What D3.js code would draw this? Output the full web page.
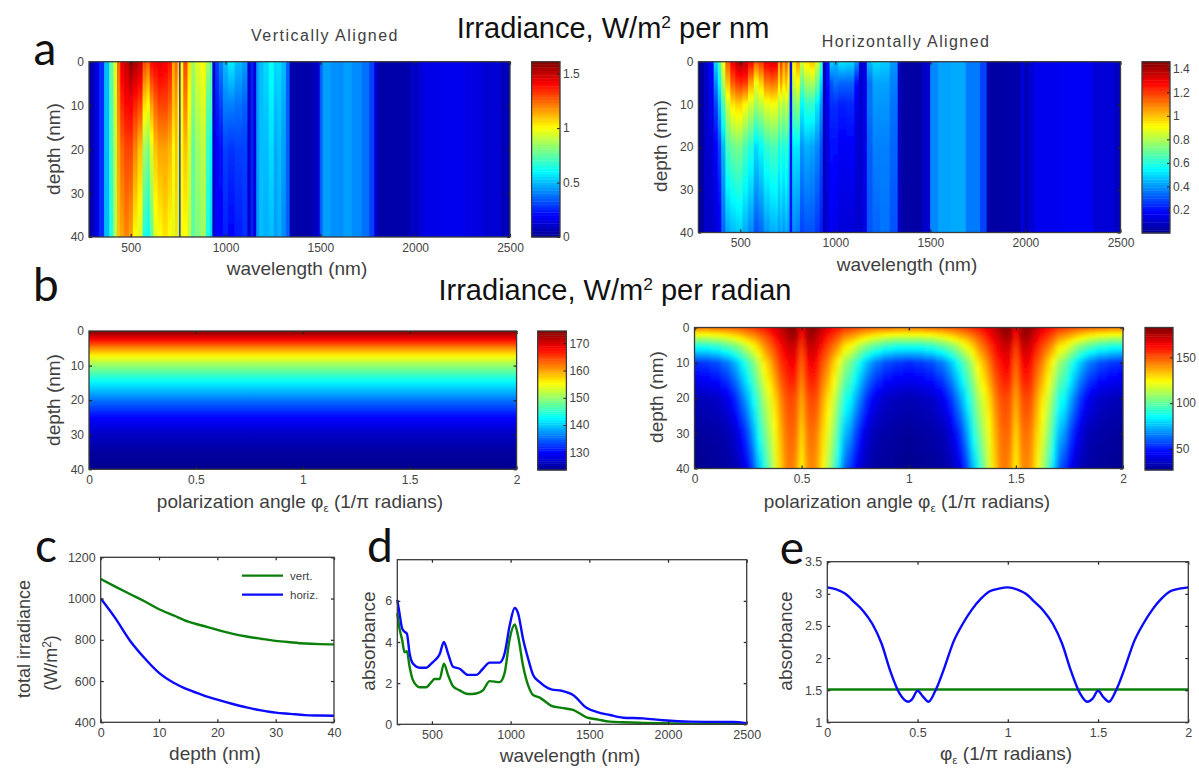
<!DOCTYPE html>
<html>
<head>
<meta charset="utf-8">
<script src="https://cdn.jsdelivr.net/npm/d3@7"></script>
<style>
  body { margin: 0; background: #fff; }
  text { font-family: "Liberation Sans", Arial, sans-serif; fill: #404040; }
  .tick text { font-size: 12px; fill: #444; }
  .big { fill: #111; }
  .letter { font-family: Lato, "Open Sans", sans-serif; fill: #111; font-size: 46px; }
</style>
</head>
<body>
<svg id="fig" width="1199" height="769"></svg>
<script>
"use strict";

// panel a: irradiance columns, one row per wavelength. one number = same at every depth
const aLeftDepths = [0, 10, 20, 40];
const aLeftWl = [280, 300, 320, 346, 373, 400, 417, 438, 452, 479, 500, 523, 549, 576, 590, 611, 629, 655, 682, 708, 726, 740, 753, 759, 766, 788, 811, 827, 850, 885, 908, 926, 935, 956, 973, 1000, 1026, 1070, 1106, 1125, 1139, 1155, 1169, 1186, 1213, 1243, 1266, 1283, 1306, 1331, 1345, 1433, 1477, 1491, 1503, 1520, 1591, 1608, 1635, 1696, 1740, 1775, 1793, 1810, 1969, 1986, 2004, 2021, 2065, 2224, 2312, 2400, 2500];
const aLeftRows = [
  [0.05], [0.07], [0.15], [0.27], [0.5], [0.75, 0.72, 0.7, 0.65], [0.95, 0.93, 0.9, 0.88],
  [1.25, 1.2, 1.15, 1.1], [1.45, 1.35, 1.25, 1.15], [1.5, 1.4, 1.3, 1.2], [1.58, 1.42, 1.3, 1.15],
  [1.55, 1.35, 1.2, 1.0], [1.5, 1.3, 1.1, 0.95], [1.3, 1.05, 0.85, 0.65], [1.25, 1.0, 0.8, 0.6],
  [1.4, 1.15, 0.95, 0.75], [1.42, 1.25, 1.1, 0.95], [1.45, 1.3, 1.15, 1.0], [1.43, 1.3, 1.15, 1.05],
  [1.38, 1.25, 1.12, 1.0], [1.15, 1.1, 1.0, 0.95], [1.25, 1.15, 1.1, 1.05], [1.1, 1.0, 0.95, 0.9],
  [0.2], [1.0], [1.3, 1.2, 1.1, 1.0], [1.05, 1.0, 0.95, 0.9], [0.85, 0.8, 0.75, 0.75],
  [0.95, 0.9, 0.85, 0.8], [1.0, 0.95, 0.9, 0.85], [0.85, 0.75, 0.7, 0.65], [0.75, 0.7, 0.6, 0.55],
  [0.1], [0.3, 0.24, 0.2, 0.2], [0.4, 0.3, 0.22, 0.2], [0.5, 0.4, 0.3, 0.25], [0.58, 0.4, 0.28, 0.2],
  [0.5, 0.38, 0.3, 0.24], [0.45, 0.35, 0.3, 0.27], [0.1], [0.25], [0.12], [0.45], [0.5],
  [0.55, 0.52, 0.5, 0.48], [0.62, 0.58, 0.55, 0.5], [0.55, 0.5, 0.47, 0.45], [0.55, 0.52, 0.5, 0.48],
  [0.5, 0.47, 0.45, 0.42], [0.35], [0.05], [0.05], [0.08], [0.12], [0.35], [0.45], [0.43], [0.42],
  [0.45], [0.42], [0.38], [0.3], [0.12], [0.05], [0.05], [0.12], [0.08], [0.13], [0.16], [0.17],
  [0.15], [0.12], [0.08]
];

const aRightDepths = [0, 5, 10, 20, 40];
const aRightWl = [280, 295, 321, 347, 373, 391, 409, 435, 461, 488, 500, 523, 558, 584, 610, 637, 672, 693, 703, 716, 728, 742, 756, 764, 782, 803, 825, 847, 882, 905, 930, 938, 961, 979, 1000, 1031, 1084, 1116, 1132, 1156, 1176, 1216, 1256, 1316, 1340, 1346, 1446, 1466, 1492, 1506, 1576, 1636, 1736, 1786, 1806, 1966, 1986, 2006, 2026, 2076, 2276, 2436, 2500];
const aRightRows = [
  [0.03], [0.03], [0.1], [0.18, 0.17, 0.15, 0.12, 0.1], [0.5, 0.38, 0.28, 0.18, 0.12],
  [0.65, 0.55, 0.45, 0.28, 0.15], [0.9, 0.8, 0.65, 0.45, 0.33], [1.15, 1.0, 0.85, 0.65, 0.42],
  [1.3, 1.15, 0.95, 0.7, 0.45], [1.38, 1.2, 0.98, 0.72, 0.47], [1.4, 1.22, 0.98, 0.72, 0.48],
  [1.37, 1.2, 0.92, 0.65, 0.43], [1.28, 1.05, 0.85, 0.6, 0.38], [1.15, 0.9, 0.78, 0.5, 0.3],
  [1.2, 0.98, 0.82, 0.55, 0.33], [1.3, 1.1, 0.88, 0.62, 0.4], [1.33, 1.12, 0.9, 0.65, 0.43],
  [1.32, 1.1, 0.9, 0.66, 0.44], [1.05, 0.95, 0.8, 0.58, 0.4], [1.2, 1.05, 0.85, 0.62, 0.43],
  [1.05, 0.95, 0.78, 0.58, 0.4], [1.15, 1.0, 0.85, 0.62, 0.43], [1.0, 0.9, 0.75, 0.55, 0.4],
  [0.2], [0.95, 0.85, 0.72, 0.52, 0.38], [1.05, 0.9, 0.75, 0.52, 0.36], [0.85, 0.7, 0.55, 0.4, 0.28],
  [0.95, 0.78, 0.62, 0.44, 0.3], [1.0, 0.8, 0.62, 0.42, 0.3], [0.85, 0.7, 0.52, 0.38, 0.26],
  [0.65, 0.5, 0.4, 0.3, 0.22], [0.07], [0.2, 0.2, 0.17, 0.14, 0.13], [0.5, 0.3, 0.25, 0.2, 0.17],
  [0.45, 0.35, 0.25, 0.2, 0.15], [0.52, 0.33, 0.23, 0.17, 0.12], [0.5, 0.33, 0.24, 0.18, 0.12],
  [0.4, 0.2, 0.15, 0.13, 0.11], [0.1], [0.15], [0.45, 0.35, 0.35, 0.32, 0.3], [0.5, 0.42, 0.4, 0.37, 0.33],
  [0.48, 0.42, 0.4, 0.37, 0.35], [0.4, 0.37, 0.35, 0.33, 0.3], [0.1], [0.04], [0.04], [0.1], [0.1],
  [0.38], [0.42], [0.43], [0.36], [0.28], [0.04], [0.05], [0.13], [0.06], [0.12], [0.16], [0.17],
  [0.12], [0.08]
];

// panel b left: irradiance per radian does not depend on the angle
const bLeftAngles = [0, 2];
const bLeftDepths = [0, 2.5, 5, 7.5, 10, 12.5, 15, 17.5, 20, 25, 30, 35, 40];
const bLeftProfile = [174.5, 168, 161, 155, 150, 146, 142, 139, 135.7, 130, 126.5, 124.5, 123.5];

// panel b right: one period, repeats for 1..2
const bRightDepths = [0, 2.5, 5, 10, 20, 30, 40];
const bRightAngles = [0, 0.05, 0.1, 0.15, 0.175, 0.2, 0.225, 0.25, 0.275, 0.3, 0.325, 0.35, 0.375, 0.4, 0.425, 0.45, 0.475, 0.5, 0.525, 0.55, 0.575, 0.6, 0.625, 0.65, 0.675, 0.7, 0.725, 0.75, 0.775, 0.8, 0.825, 0.85, 0.9, 0.95, 1];
const bRightRows = [
  [145, 118, 92, 54, 34, 29, 27], [145, 118, 92, 55, 35, 30, 28], [147, 120, 95, 58, 37, 31, 29],
  [148, 123, 100, 64, 42, 33, 30], [149, 126, 104, 70, 48, 36, 32], [150, 129, 108, 77, 55, 41, 34],
  [151, 133, 113, 86, 65, 49, 39], [153, 137, 120, 95, 75, 58, 46], [155, 140, 126, 104, 87, 72, 57],
  [158, 145, 133, 115, 98, 88, 75], [160, 150, 142, 127, 112, 100, 88], [165, 155, 148, 135, 120, 112, 102],
  [168, 162, 155, 145, 130, 122, 118], [172, 168, 162, 155, 142, 135, 130], [178, 172, 168, 160, 150, 145, 142],
  [182, 178, 172, 165, 153, 148, 145], [180, 176, 170, 163, 150, 146, 140], [165, 160, 155, 148, 138, 130, 125],
  [178, 175, 170, 162, 150, 144, 140], [182, 178, 173, 166, 153, 147, 143], [178, 172, 168, 160, 150, 142, 138],
  [172, 166, 160, 150, 138, 130, 125], [167, 160, 153, 143, 128, 120, 112], [163, 155, 147, 132, 118, 108, 98],
  [160, 150, 140, 122, 105, 92, 80], [156, 143, 130, 110, 90, 76, 62], [155, 140, 126, 104, 87, 70, 55],
  [153, 137, 120, 95, 75, 58, 46], [151, 133, 113, 86, 65, 49, 39], [150, 129, 108, 77, 55, 41, 34],
  [149, 126, 104, 70, 48, 36, 32], [148, 123, 100, 64, 42, 33, 30], [147, 120, 95, 58, 37, 31, 29],
  [145, 118, 92, 55, 35, 30, 28], [145, 118, 92, 53, 34, 29, 27]
];

// panel c
const cDepth = [0, 2.5, 5, 7.5, 10, 12.5, 15, 17.5, 20, 22.5, 25, 27.5, 30, 32.5, 35, 37.5, 40];
const cVert = [1095, 1058, 1022, 987, 948, 918, 888, 868, 848, 830, 816, 805, 795, 788, 782, 779, 778];
const cHoriz = [1000, 905, 797, 712, 640, 592, 558, 532, 510, 490, 472, 458, 447, 441, 435, 433, 432];

// panel d
const dWl = [280, 294, 311, 326, 341, 358, 379, 422, 464, 496, 517, 549, 576, 602, 634, 676, 729, 782, 824, 867, 930, 962, 994, 1026, 1047, 1079, 1111, 1143, 1185, 1259, 1323, 1397, 1482, 1556, 1630, 1715, 1842, 1969, 2138, 2414, 2500];
const dHoriz = [6.05, 5.4, 4.65, 4.5, 4.4, 3.45, 2.95, 2.75, 2.75, 2.95, 3.1, 3.4, 4.0, 3.45, 2.8, 2.7, 2.4, 2.4, 2.7, 3.0, 3.0, 3.45, 4.8, 5.65, 5.4, 4.15, 3.2, 2.4, 2.05, 1.7, 1.63, 1.42, 0.8, 0.58, 0.45, 0.32, 0.29, 0.2, 0.13, 0.11, 0.05];
const dVert = [5.4, 4.65, 4.1, 3.5, 3.55, 2.8, 2.15, 1.8, 1.8, 2.05, 2.2, 2.2, 2.95, 2.4, 1.85, 1.65, 1.47, 1.5, 1.65, 2.1, 2.05, 2.5, 4.15, 4.85, 4.3, 2.85, 1.9, 1.42, 1.3, 0.9, 0.8, 0.7, 0.34, 0.23, 0.13, 0.1, 0.07, 0.05, 0.03, 0.02, 0.02];

// panel e
const eAngle = [0, 0.05, 0.1, 0.15, 0.2, 0.25, 0.3, 0.35, 0.4, 0.45, 0.47, 0.5, 0.53, 0.56, 0.6, 0.65, 0.7, 0.75, 0.8, 0.85, 0.9, 0.95, 1, 1.05, 1.1, 1.15, 1.2, 1.25, 1.3, 1.35, 1.4, 1.44, 1.47, 1.5, 1.53, 1.56, 1.6, 1.65, 1.7, 1.75, 1.8, 1.85, 1.9, 1.95, 2];
const eHoriz = [3.1, 3.07, 3.0, 2.87, 2.73, 2.53, 2.23, 1.79, 1.45, 1.32, 1.36, 1.49, 1.4, 1.32, 1.5, 1.86, 2.26, 2.53, 2.75, 2.92, 3.04, 3.08, 3.1, 3.07, 3.0, 2.87, 2.73, 2.53, 2.23, 1.8, 1.45, 1.32, 1.37, 1.49, 1.39, 1.32, 1.5, 1.86, 2.26, 2.53, 2.75, 2.92, 3.04, 3.08, 3.1];
const eVertAngle = [0, 2];
const eVert = [1.51, 1.51];

const svg = d3.select("#fig");
const defs = svg.append("defs");
const BLUE = "#0a0aff";
const GREEN = "#0a800a";
const FRAME = "#3a3a3a";

defs.append("filter").attr("id", "soft").append("feGaussianBlur").attr("stdDeviation", "0.45 0.6");
defs.append("filter").attr("id", "softer").append("feGaussianBlur").attr("stdDeviation", "2 0.8");

const jetStops = [0, 0.125, 0.375, 0.625, 0.875, 1];
const jetColors = ["#00008f", "#0000ff", "#00ffff", "#ffff00", "#ff0000", "#800000"];
function jet(lo, hi) {
    return d3.scaleLinear()
        .domain(jetStops.map(t => lo + t * (hi - lo)))
        .range(jetColors)
        .clamp(true);
}

// MATLAB style box: ticks pointing inwards on all four sides, labels left and bottom
function drawAxes(box, x, y, xTicks, yTicks, fontSize) {
    const g = svg.append("g");
    const fmt = d => d;
    g.append("g").attr("transform", `translate(0,${box.y1})`)
        .call(d3.axisBottom(x).tickValues(xTicks).tickFormat(fmt).tickSize(-3).tickPadding(6));
    g.append("g").attr("transform", `translate(${box.x0},0)`)
        .call(d3.axisLeft(y).tickValues(yTicks).tickFormat(fmt).tickSize(-3).tickPadding(5));
    g.append("g").attr("transform", `translate(0,${box.y0})`)
        .call(d3.axisTop(x).tickValues(xTicks).tickFormat("").tickSize(-3));
    g.append("g").attr("transform", `translate(${box.x1},0)`)
        .call(d3.axisRight(y).tickValues(yTicks).tickFormat("").tickSize(-3));
    g.selectAll(".domain").remove();
    g.selectAll(".tick line").attr("stroke", "#222").attr("stroke-width", 1.2);
    g.selectAll(".tick text").style("font-size", fontSize ? fontSize + "px" : null);
    g.append("rect")
        .attr("x", box.x0).attr("y", box.y0)
        .attr("width", box.x1 - box.x0).attr("height", box.y1 - box.y0)
        .attr("fill", "none").attr("stroke", FRAME).attr("stroke-width", 1.3);
}

// one rect per column, the depth dependence goes into a vertical gradient
function drawHeat(id, box, x, y, xs, depths, rows, color, filter) {
    defs.append("clipPath").attr("id", "clip-" + id).append("rect")
        .attr("x", box.x0).attr("y", box.y0)
        .attr("width", box.x1 - box.x0).attr("height", box.y1 - box.y0);
    const layer = svg.append("g").attr("clip-path", `url(#clip-${id})`)
        .append("g").attr("filter", `url(#${filter})`);
    const edges = xs.map((v, i) => i === 0 ? x.domain()[0] : (xs[i - 1] + v) / 2);
    edges.push(x.domain()[1]);
    const samples = d3.range(0, 40.5, 1);
    rows.forEach((row, i) => {
        let fill;
        if (row.length === 1) {
            fill = color(row[0]);
        } else {
            const at = d3.scaleLinear().domain(depths).range(row);
            const gid = `${id}-col${i}`;
            const grad = defs.append("linearGradient").attr("id", gid)
                .attr("gradientUnits", "userSpaceOnUse")
                .attr("x1", 0).attr("x2", 0).attr("y1", y(0)).attr("y2", y(40));
            grad.selectAll("stop").data(samples).enter().append("stop")
                .attr("offset", d => d / 40)
                .attr("stop-color", d => color(at(d)));
            fill = `url(#${gid})`;
        }
        // first and last run past the box so the blur has no pale edge
        const left = i === 0 ? x(edges[i]) - 6 : x(edges[i]);
        const right = i === rows.length - 1 ? x(edges[i + 1]) + 6 : x(edges[i + 1]) + 1.2;
        layer.append("rect")
            .attr("x", left)
            .attr("y", box.y0 - 6)
            .attr("width", right - left)
            .attr("height", box.y1 - box.y0 + 12)
            .attr("fill", fill);
    });
}

function drawColorbar(box, lo, hi, ticks) {
    const color = jet(lo, hi);
    const y = d3.scaleLinear().domain([lo, hi]).range([box.y1, box.y0]);
    const levels = d3.range(0, 64).map(i => lo + (i + 0.5) / 64 * (hi - lo));
    const step = (hi - lo) / 64;
    svg.append("g").selectAll("rect").data(levels).enter().append("rect")
        .attr("x", box.x0).attr("width", box.x1 - box.x0)
        .attr("y", d => y(d + step / 2))
        .attr("height", d => y(d - step / 2) - y(d + step / 2) + 0.4)
        .attr("fill", d => color(d));
    const g = svg.append("g").attr("transform", `translate(${box.x1},0)`)
        .call(d3.axisRight(y).tickValues(ticks).tickFormat(d => d).tickSize(-3).tickPadding(3));
    g.select(".domain").remove();
    g.selectAll(".tick line").attr("stroke", "#222");
    svg.append("rect")
        .attr("x", box.x0).attr("y", box.y0)
        .attr("width", box.x1 - box.x0).attr("height", box.y1 - box.y0)
        .attr("fill", "none").attr("stroke", FRAME).attr("stroke-width", 1.3);
}

function hText(cx, y, str, size, cls) {
    return svg.append("text").attr("x", cx).attr("y", y)
        .attr("text-anchor", "middle").attr("class", cls || null)
        .style("font-size", size + "px").text(str);
}
function vText(cx, cy, str, size) {
    return svg.append("text")
        .attr("transform", `translate(${cx},${cy}) rotate(-90)`)
        .attr("text-anchor", "middle")
        .style("font-size", size + "px").text(str);
}
function angleLabel(cx, y, before, after, size) {
    const t = hText(cx, y, null, size);
    t.append("tspan").text(before + "\u03c6");
    t.append("tspan").attr("dy", 4).style("font-size", (size * 0.62) + "px").text("\u03b5");
    t.append("tspan").attr("dy", -4).text(after);
    return t;
}
function titleWithSup(cx, y, before, after, size) {
    const t = hText(cx, y, null, size, "big");
    t.append("tspan").text(before);
    t.append("tspan").attr("dy", -10).style("font-size", (size * 0.6) + "px").text("2");
    t.append("tspan").attr("dy", 10).text(after);
    return t;
}

function heatPanel(id, box, xDomain, xTicks, xs, depths, rows, lo, hi, barBox, barTicks, filter) {
    const x = d3.scaleLinear().domain(xDomain).range([box.x0, box.x1]);
    const y = d3.scaleLinear().domain([0, 40]).range([box.y0, box.y1]);
    drawHeat(id, box, x, y, xs, depths, rows, jet(lo, hi), filter || "soft");
    drawAxes(box, x, y, xTicks, [0, 10, 20, 30, 40]);
    drawColorbar(barBox, lo, hi, barTicks);
}

const wlTicks = [500, 1000, 1500, 2000, 2500];
const angleTicks = [0, 0.5, 1, 1.5, 2];
const wlDomain = [280, 2500];

// a
heatPanel("aL", {x0: 89, x1: 510, y0: 61.7, y1: 237}, wlDomain, wlTicks, aLeftWl, aLeftDepths, aLeftRows,
    0, 1.61, {x0: 531.6, x1: 560, y0: 61.7, y1: 237}, [0, 0.5, 1, 1.5]);
heatPanel("aR", {x0: 698.4, x1: 1120.5, y0: 61.7, y1: 232.5}, wlDomain, wlTicks, aRightWl, aRightDepths, aRightRows,
    0.004, 1.46, {x0: 1142, x1: 1170, y0: 61.7, y1: 233}, [0.2, 0.4, 0.6, 0.8, 1, 1.2, 1.4]);

// b
heatPanel("bL", {x0: 89, x1: 516.6, y0: 331, y1: 469.3}, [0, 2], angleTicks, bLeftAngles, bLeftDepths,
    [bLeftProfile, bLeftProfile], 123.5, 174.5, {x0: 537.7, x1: 566.4, y0: 331, y1: 470}, [130, 140, 150, 160, 170]);
heatPanel("bR", {x0: 694.5, x1: 1123, y0: 327.5, y1: 468.5}, [0, 2], angleTicks,
    bRightAngles.concat(bRightAngles.slice(1).map(a => a + 1)), bRightDepths,
    bRightRows.concat(bRightRows.slice(1)), 27, 182.6, {x0: 1145, x1: 1173, y0: 327.5, y1: 470}, [50, 100, 150], "softer");

// line panels
function linePanel(box, xDomain, yDomain, xTicks, yTicks, series) {
    const x = d3.scaleLinear().domain(xDomain).range([box.x0, box.x1]);
    const y = d3.scaleLinear().domain(yDomain).range([box.y1, box.y0]);
    const line = d3.line().x(d => x(d[0])).y(d => y(d[1])).curve(d3.curveMonotoneX);
    series.forEach(s => {
        svg.append("path")
            .attr("d", line(d3.zip(s.xs, s.ys)))
            .attr("fill", "none")
            .attr("stroke", s.color)
            .attr("stroke-width", 2.4)
            .attr("stroke-linejoin", "round");
    });
    drawAxes(box, x, y, xTicks, yTicks, 12.5);
}

linePanel({x0: 100.7, x1: 334, y0: 557.3, y1: 722.3}, [0, 40], [400, 1200],
    [0, 10, 20, 30, 40], [400, 600, 800, 1000, 1200],
    [{xs: cDepth, ys: cVert, color: GREEN}, {xs: cDepth, ys: cHoriz, color: BLUE}]);
linePanel({x0: 397.3, x1: 746.7, y0: 559.7, y1: 724.3}, [280, 2500], [0, 8],
    wlTicks, [0, 2, 4, 6],
    [{xs: dWl, ys: dVert, color: GREEN}, {xs: dWl, ys: dHoriz, color: BLUE}]);
linePanel({x0: 827.3, x1: 1188.3, y0: 561.7, y1: 722.3}, [0, 2], [1, 3.5],
    angleTicks, [1, 1.5, 2, 2.5, 3, 3.5],
    [{xs: eVertAngle, ys: eVert, color: GREEN}, {xs: eAngle, ys: eHoriz, color: BLUE}]);

// legend of c
const legendRows = [{label: "vert.", color: GREEN, y: 575.7}, {label: "horiz.", color: BLUE, y: 594.7}];
legendRows.forEach(r => {
    svg.append("line").attr("x1", 242).attr("x2", 283).attr("y1", r.y).attr("y2", r.y)
        .attr("stroke", r.color).attr("stroke-width", 2.3);
    svg.append("text").attr("x", 290).attr("y", r.y + 4).style("font-size", "11.5px").text(r.label);
});

// titles and labels
titleWithSup(613, 38, "Irradiance, W/m", " per nm", 29);
titleWithSup(615, 300, "Irradiance, W/m", " per radian", 29);
hText(325, 41, "Vertically Aligned", 16).style("letter-spacing", "1.5px");
hText(906, 47, "Horizontally Aligned", 16).style("letter-spacing", "1.4px");

hText(297, 275, "wavelength (nm)", 19);
hText(907, 271, "wavelength (nm)", 19);
vText(60, 149, "depth (nm)", 19);
vText(667, 146, "depth (nm)", 19);
vText(60, 400, "depth (nm)", 19);
vText(663, 397, "depth (nm)", 19);
angleLabel(300, 508, "polarization angle ", " (1/\u03c0 radians)", 19);
angleLabel(907, 508, "polarization angle ", " (1/\u03c0 radians)", 19);

hText(215, 760, "depth (nm)", 19);
vText(30, 639, "total irradiance", 18);
const wm = vText(57, 663, null, 18);
wm.append("tspan").text("(W/m");
wm.append("tspan").attr("dy", -6).style("font-size", "12px").text("2");
wm.append("tspan").attr("dy", 6).text(")");
hText(570, 762, "wavelength (nm)", 19);
vText(375, 641, "absorbance", 19);
vText(792, 641, "absorbance", 19);
angleLabel(1006, 760, "", " (1/\u03c0 radians)", 19);

// panel letters
const panelLetters = [
    {t: "a", x: 45, y: 65}, {t: "b", x: 46, y: 301}, {t: "c", x: 46, y: 562},
    {t: "d", x: 380, y: 562}, {t: "e", x: 792, y: 564}
];
panelLetters.forEach(p => hText(p.x, p.y, p.t, 46, "letter"));
</script>
</body>
</html>
